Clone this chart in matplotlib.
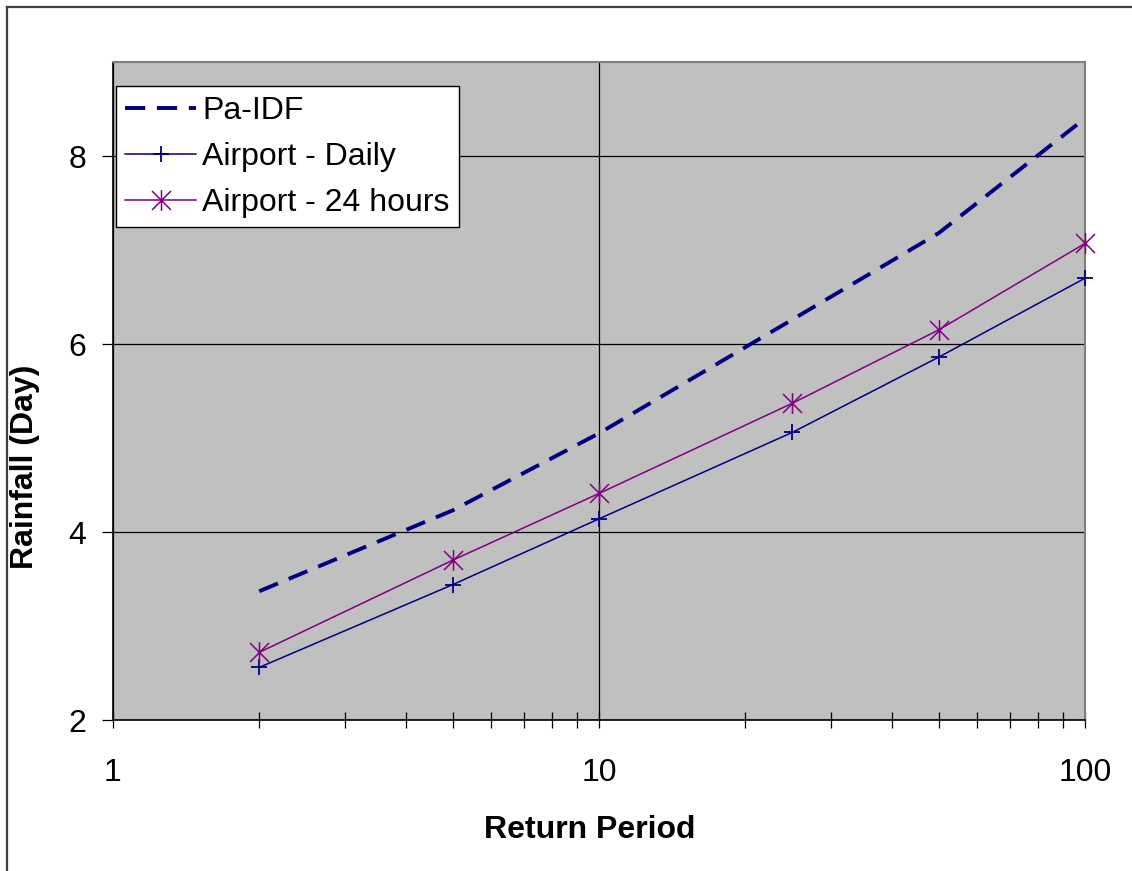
import matplotlib
matplotlib.use("Agg")
import matplotlib.pyplot as plt
from matplotlib.path import Path
from matplotlib.lines import Line2D
from matplotlib.ticker import FixedLocator, FixedFormatter

plt.rcParams["font.family"] = ["Liberation Sans", "DejaVu Sans"]

# return periods (years) and rainfall depths
periods = [2, 5, 10, 25, 50, 100]
pa_idf = [3.37, 4.23, 5.05, 6.26, 7.18, 8.40]
airport_daily = [2.56, 3.44, 4.14, 5.06, 5.86, 6.70]
airport_24h = [2.72, 3.70, 4.41, 5.37, 6.15, 7.07]

x_major = [1, 10, 100]
x_labels = ["1", "10", "100"]
y_ticks = [2, 4, 6, 8]

# Excel-like asterisk marker: X plus a vertical bar
star = Path(
    [(-1, -1), (1, 1), (-1, 1), (1, -1), (0, -1.1), (0, 1.1)],
    [Path.MOVETO, Path.LINETO, Path.MOVETO, Path.LINETO, Path.MOVETO, Path.LINETO],
)

W, H, DPI = 1132, 871, 100
fig = plt.figure(figsize=(W / DPI, H / DPI), dpi=DPI)
ax = fig.add_axes([113 / W, 1 - 720 / H, (1085 - 113) / W, (720 - 62) / H])
ax.set_facecolor("#C0C0C0")

ax.plot(periods, pa_idf, color="#000080", lw=2.8, linestyle=(0, (5.2, 3.0)),
        label="Pa-IDF", clip_on=False, dash_capstyle="butt", zorder=3)
ax.plot(periods, airport_daily, color="#000080", lw=1.1, marker="+", ms=11.5,
        mew=1.3, label="Airport - Daily", clip_on=False, zorder=3)
ax.plot(periods, airport_24h, color="#800080", lw=1.1, marker=star, ms=15,
        mew=1.1, mfc="none", label="Airport - 24 hours", clip_on=False, zorder=3)

ax.set_xscale("log")
ax.set_xlim(1, 100)
ax.set_ylim(2, 9)
ax.xaxis.set_major_locator(FixedLocator(x_major))
ax.xaxis.set_major_formatter(FixedFormatter(x_labels))
ax.xaxis.set_minor_locator(FixedLocator([2, 3, 4, 5, 6, 7, 8, 9, 20, 30, 40, 50, 60, 70, 80, 90]))
ax.xaxis.set_minor_formatter(FixedFormatter([]))
ax.set_yticks(y_ticks)
ax.set_yticklabels([str(v) for v in y_ticks])

ax.tick_params(axis="x", which="both", direction="inout", length=12, width=0.9,
               colors="black", labelsize=23, pad=21)
ax.tick_params(axis="y", which="major", direction="out", length=8, width=0.9,
               colors="black", labelsize=23, pad=11)

ax.grid(True, which="major", color="black", lw=0.9)
ax.set_axisbelow(True)

for side in ("top", "right"):
    ax.spines[side].set_color("#808080")
    ax.spines[side].set_linewidth(1.5)
for side in ("bottom", "left"):
    ax.spines[side].set_color("black")
    ax.spines[side].set_linewidth(1.2)

leg = ax.legend(loc="upper left", bbox_to_anchor=(0.003, 0.963), fontsize=23,
                frameon=True, fancybox=False, framealpha=1, edgecolor="black",
                handlelength=2.2, handletextpad=0.2, borderpad=0.3,
                labelspacing=0.5, borderaxespad=0)
leg.get_frame().set_linewidth(1.0)
leg.set_zorder(4)

fig.text(590 / W, 1 - 830 / H, "Return Period", ha="center", va="center",
         fontsize=23, fontweight="bold")
fig.text(25 / W, 1 - 467 / H, "Rainfall (Day)", ha="center", va="center",
         fontsize=23, fontweight="bold", rotation=90)

# outer chart border (left and top visible)
fig.add_artist(Line2D([7 / W, 7 / W], [0, 1 - 7 / H], color="#404040", lw=1.6))
fig.add_artist(Line2D([7 / W, 1], [1 - 7 / H, 1 - 7 / H], color="#404040", lw=1.6))

fig.savefig("out.png", dpi=DPI)
